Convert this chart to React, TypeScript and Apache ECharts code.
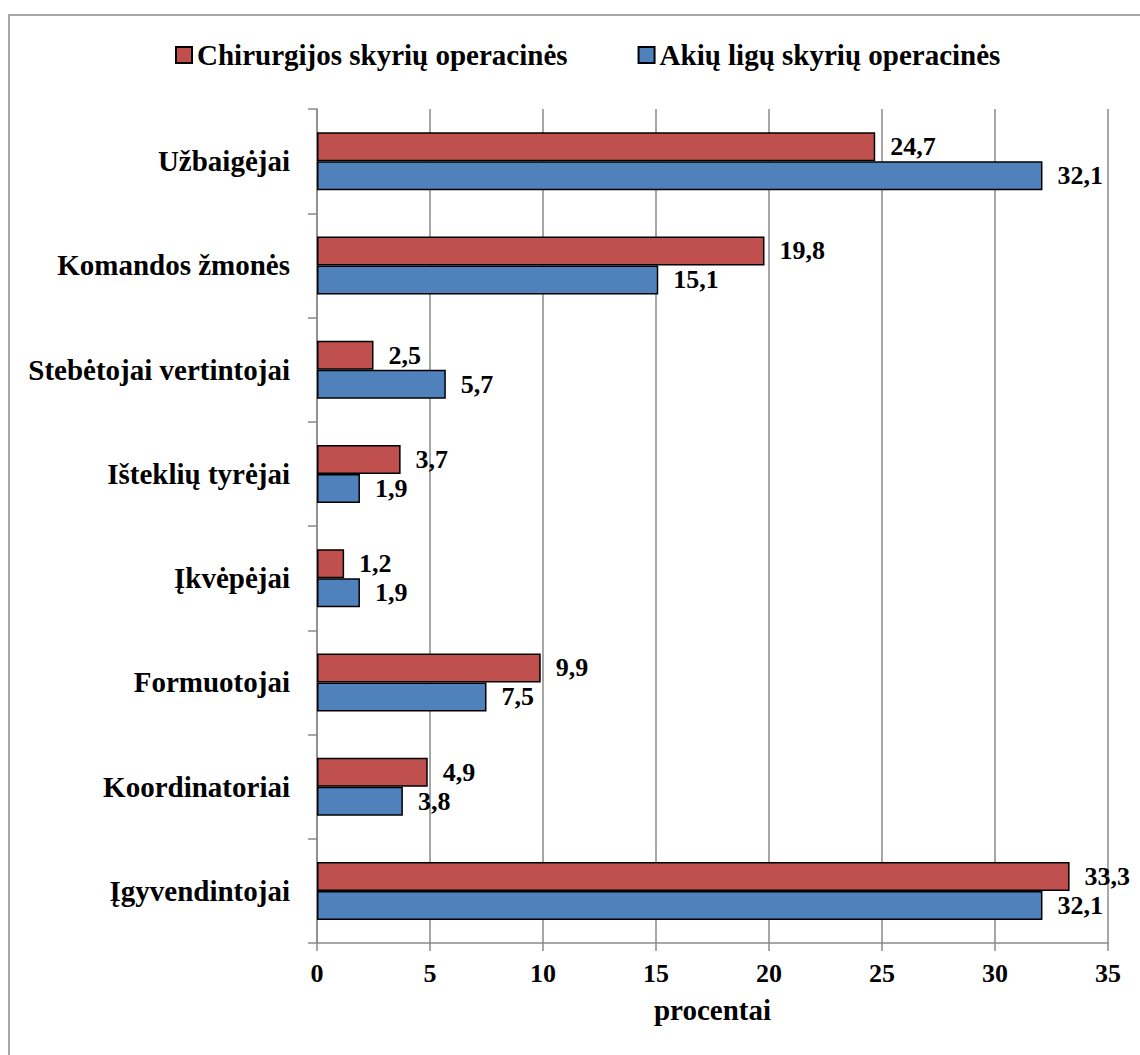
import React, { useEffect, useRef } from "react";
import * as echarts from "echarts";

// Team role categories, listed top to bottom
const categories = [
  "Užbaigėjai",
  "Komandos žmonės",
  "Stebėtojai vertintojai",
  "Išteklių tyrėjai",
  "Įkvėpėjai",
  "Formuotojai",
  "Koordinatoriai",
  "Įgyvendintojai",
];

const surgeryName = "Chirurgijos skyrių operacinės";
const eyeName = "Akių ligų skyrių operacinės";

// Percentages per role
const surgeryValues = [24.7, 19.8, 2.5, 3.7, 1.2, 9.9, 4.9, 33.3];
const eyeValues = [32.1, 15.1, 5.7, 1.9, 1.9, 7.5, 3.8, 32.1];

const xTicks = { min: 0, max: 35, interval: 5 };
const xAxisTitle = "procentai";

const FONT = "Liberation Serif";
const GRID_GRAY = "#8a8a8a";

const fmt = (v: number) => v.toFixed(1).replace(".", ",");

export default function App() {
  const ref = useRef<HTMLDivElement>(null);

  useEffect(() => {
    if (!ref.current) return;
    const chart = echarts.init(ref.current, null, { renderer: "svg" });

    const labelStyle = {
      show: true,
      position: "right" as const,
      distance: 15,
      color: "#000",
      fontFamily: FONT,
      fontWeight: "bold" as const,
      fontSize: 26,
      formatter: (p: any) => fmt(p.value),
    };

    chart.setOption({
      animation: false,
      backgroundColor: "#fff",
      textStyle: { fontFamily: FONT },
      graphic: [
        {
          type: "rect",
          shape: { x: 9, y: 15, width: 1200, height: 1100 },
          style: { fill: "none", stroke: GRID_GRAY, lineWidth: 1.5 },
          silent: true,
          z: -10,
        },
      ],
      legend: {
        left: 170,
        top: 35,
        itemWidth: 16,
        itemHeight: 16,
        itemGap: 70,
        icon: "rect",
        data: [surgeryName, eyeName],
        textStyle: {
          fontFamily: FONT,
          fontWeight: "bold",
          fontSize: 29,
          color: "#000",
          lineHeight: 30,
        },
      },
      grid: { left: 317, right: 32, top: 109, bottom: 112, containLabel: false },
      xAxis: {
        type: "value",
        min: xTicks.min,
        max: xTicks.max,
        interval: xTicks.interval,
        name: xAxisTitle,
        nameLocation: "middle",
        nameGap: 52,
        nameTextStyle: {
          fontFamily: FONT,
          fontWeight: "bold",
          fontSize: 29,
          color: "#000",
          lineHeight: 29,
        },
        axisLine: { show: true, lineStyle: { color: GRID_GRAY, width: 1.5 } },
        axisTick: { show: true, length: 8, lineStyle: { color: GRID_GRAY, width: 1.5 } },
        axisLabel: {
          margin: 17,
          fontFamily: FONT,
          fontWeight: "bold",
          fontSize: 26,
          color: "#000",
          lineHeight: 26,
        },
        splitLine: { show: true, lineStyle: { color: GRID_GRAY, width: 1.5 } },
      },
      yAxis: {
        type: "category",
        inverse: true,
        data: categories,
        axisLine: { show: true, lineStyle: { color: GRID_GRAY, width: 1.5 } },
        axisTick: { show: true, length: 9, lineStyle: { color: GRID_GRAY, width: 1.5 } },
        axisLabel: {
          margin: 27,
          fontFamily: FONT,
          fontWeight: "bold",
          fontSize: 29,
          color: "#000",
        },
        splitLine: { show: false },
      },
      series: [
        {
          name: surgeryName,
          type: "bar",
          data: surgeryValues,
          barWidth: 29,
          barGap: "0%",
          itemStyle: { color: "#C0504D", borderColor: "#000", borderWidth: 1.5 },
          label: labelStyle,
        },
        {
          name: eyeName,
          type: "bar",
          data: eyeValues,
          barWidth: 29,
          barGap: "0%",
          itemStyle: { color: "#4F81BD", borderColor: "#000", borderWidth: 1.5 },
          label: labelStyle,
        },
      ],
    });

    return () => chart.dispose();
  }, []);

  return (
    <div
      ref={ref}
      style={{ position: "absolute", left: 0, top: 0, width: 1140, height: 1055 }}
    />
  );
}
